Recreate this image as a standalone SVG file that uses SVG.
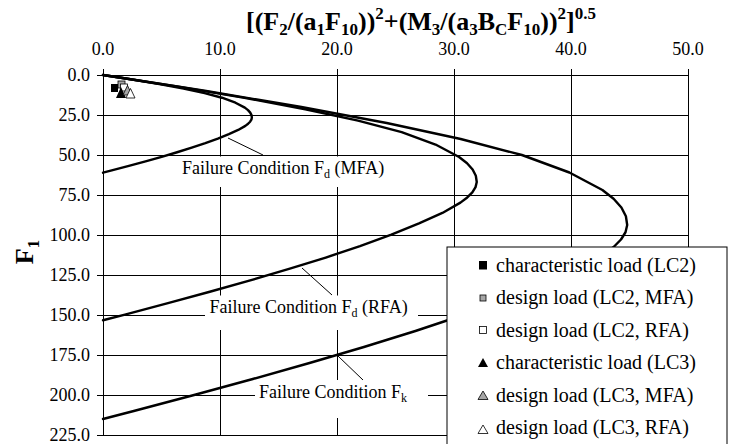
<svg xmlns="http://www.w3.org/2000/svg" xmlns:xlink="http://www.w3.org/1999/xlink" width="737" height="444" viewBox="0 0 737 444">
<style>
text{font-family:"Liberation Serif","Times New Roman",serif;fill:#000}
.tick{font-size:18px}
.ax{font-size:26px;font-weight:bold}
.sb{font-size:17px}
.lbl{font-size:18px}
.lsb{font-size:12px}
.leg{font-size:20px}
.grid line{stroke:#000;stroke-width:1}
.curve{fill:none;stroke:#000;stroke-linejoin:round;stroke-linecap:round}
.lead{stroke:#000;stroke-width:1;fill:none}
.box{fill:#fff;stroke:none}
.mk{stroke:#000;stroke-width:0.8}
</style>
<defs>
<path id="fc" d="M0,0 L103.3,16 L198.4,32 L283.7,48 L357.7,64 L418.9,80 L466.4,97.5 L499.4,115 L510.6,123.75 L518.4,132.5 L522.9,141.25 L524.2,150 L522.5,157.25 L518.0,164.5 L510.9,171.75 L501.3,179 L476.0,193.5 L443.2,208 L404.4,224 L360.4,240 L312.4,256 L260.9,272 L206.5,288 L149.8,304 L91.1,320 L30.8,336 L0,344"/>
</defs>
<rect width="737" height="444" fill="#fff"/>
<g id="title">
<text class="ax" x="421" y="30" text-anchor="middle"><tspan>[(F</tspan><tspan class="sb" dy="4.5">2</tspan><tspan dy="-4.5">/(a</tspan><tspan class="sb" dy="4.5">1</tspan><tspan dy="-4.5">F</tspan><tspan class="sb" dy="4.5">10</tspan><tspan dy="-4.5">))</tspan><tspan class="sb" dy="-11">2</tspan><tspan dy="11">+(M</tspan><tspan class="sb" dy="4.5">3</tspan><tspan dy="-4.5">/(a</tspan><tspan class="sb" dy="4.5">3</tspan><tspan dy="-4.5">B</tspan><tspan class="sb" dy="4.5">C</tspan><tspan dy="-4.5">F</tspan><tspan class="sb" dy="4.5">10</tspan><tspan dy="-4.5">))</tspan><tspan class="sb" dy="-11">2</tspan><tspan dy="11">]</tspan><tspan class="sb" dy="-11">0.5</tspan></text>
<text class="ax" transform="translate(33,252) rotate(-90)" text-anchor="middle">F<tspan class="sb" dy="6">1</tspan></text>
</g>
<g id="xticks" class="tick" text-anchor="middle">
<text x="103" y="54.5">0.0</text>
<text x="220" y="54.5">10.0</text>
<text x="337" y="54.5">20.0</text>
<text x="454" y="54.5">30.0</text>
<text x="571" y="54.5">40.0</text>
<text x="688" y="54.5">50.0</text>
</g>
<g id="yticks" class="tick" text-anchor="end">
<text x="90" y="81">0.0</text>
<text x="90" y="121">25.0</text>
<text x="90" y="161">50.0</text>
<text x="90" y="201">75.0</text>
<text x="90" y="241">100.0</text>
<text x="90" y="281">125.0</text>
<text x="90" y="321">150.0</text>
<text x="90" y="361">175.0</text>
<text x="90" y="401">200.0</text>
<text x="90" y="441">225.0</text>
</g>
<g id="grid" class="grid" shape-rendering="crispEdges">
<line x1="97" y1="75" x2="688" y2="75"/>
<line x1="97" y1="115" x2="688" y2="115"/>
<line x1="97" y1="155" x2="688" y2="155"/>
<line x1="97" y1="195" x2="688" y2="195"/>
<line x1="97" y1="235" x2="688" y2="235"/>
<line x1="97" y1="275" x2="688" y2="275"/>
<line x1="97" y1="315" x2="688" y2="315"/>
<line x1="97" y1="355" x2="688" y2="355"/>
<line x1="97" y1="395" x2="688" y2="395"/>
<line x1="97" y1="435" x2="688" y2="435"/>
<line x1="103" y1="69" x2="103" y2="435"/>
<line x1="220" y1="69" x2="220" y2="435"/>
<line x1="337" y1="69" x2="337" y2="435"/>
<line x1="454" y1="69" x2="454" y2="435"/>
<line x1="571" y1="69" x2="571" y2="435"/>
<line x1="688" y1="69" x2="688" y2="435"/>
</g>
<g id="label-boxes">
<rect class="box" x="178" y="156.5" width="212" height="30.5"/>
<rect class="box" x="205" y="295.5" width="213" height="34.5"/>
<rect class="box" x="255" y="380" width="173" height="38"/>
</g>
<g id="connectors">
<use xlink:href="#fc" class="curve" transform="translate(103 75) scale(1)" style="stroke-width:2.4"/>
<use xlink:href="#fc" class="curve" transform="translate(103 75) scale(0.713)" style="stroke-width:3.37"/>
<use xlink:href="#fc" class="curve" transform="translate(103 75) scale(0.284)" style="stroke-width:8.45"/>
<line class="lead" x1="228" y1="138" x2="263" y2="155"/>
<line class="lead" x1="302" y1="268" x2="332" y2="295"/>
<line class="lead" x1="338" y1="356" x2="363" y2="380"/>
</g>
<g id="label-mfa">
<text class="lbl" x="182" y="174.3">Failure Condition F<tspan class="lsb" dy="4">d</tspan><tspan dy="-4"> (MFA)</tspan></text>
</g>
<g id="label-rfa">
<text class="lbl" x="209.5" y="312.7">Failure Condition F<tspan class="lsb" dy="4">d</tspan><tspan dy="-4"> (RFA)</tspan></text>
</g>
<g id="label-fk">
<text class="lbl" x="259" y="398.3">Failure Condition F<tspan class="lsb" dy="4">k</tspan></text>
</g>
<g id="data-points">
<rect x="111" y="84" width="7" height="8" fill="#000"/>
<rect class="mk" x="118" y="81" width="7" height="7" fill="#a6a6a6"/>
<rect class="mk" x="120.5" y="84" width="7" height="7" fill="#fff"/>
<polygon points="116,98 126,98 121,87" fill="#000"/>
<polygon class="mk" points="123,95 132,95 127.5,85.5" fill="#a6a6a6"/>
<polygon class="mk" points="126,98 135,98 130.5,88.5" fill="#fff"/>
</g>
<g id="legend">
<rect x="447" y="247" width="280" height="210" fill="#fff" stroke="#000" stroke-width="1"/>
<rect x="479" y="261" width="8" height="8.5" fill="#000"/>
<rect class="mk" x="480" y="295" width="6" height="6" fill="#a6a6a6"/>
<rect class="mk" x="479.5" y="326.5" width="7" height="7" fill="#fff"/>
<polygon points="478,367 488,367 483,358" fill="#000"/>
<polygon class="mk" points="478,399.5 488,399.5 483,391" fill="#a6a6a6"/>
<polygon class="mk" points="478,433.5 488,433.5 483,425" fill="#fff"/>
<text class="leg" x="496" y="271.5">characteristic load (LC2)</text>
<text class="leg" x="496" y="304">design load (LC2, MFA)</text>
<text class="leg" x="496" y="336.5">design load (LC2, RFA)</text>
<text class="leg" x="496" y="369">characteristic load (LC3)</text>
<text class="leg" x="496" y="401.5">design load (LC3, MFA)</text>
<text class="leg" x="496" y="434">design load (LC3, RFA)</text>
</g>
</svg>
